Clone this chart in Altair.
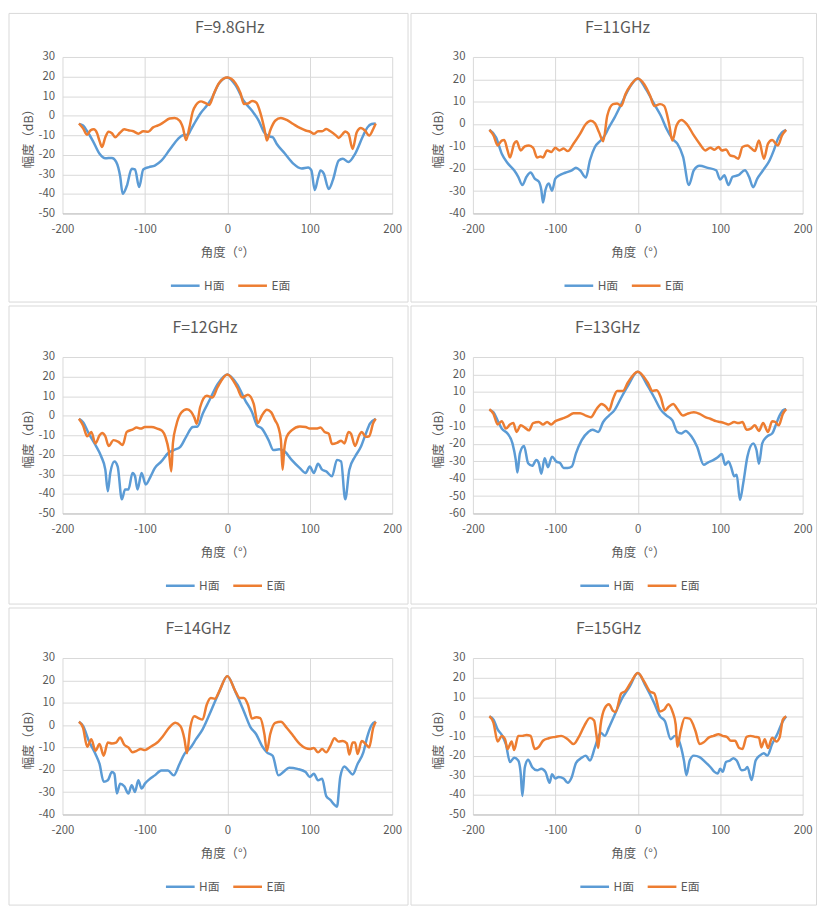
import altair as alt
import pandas as pd

BLUE = "#5B9BD5"
ORANGE = "#ED7D31"
GRID = "#D9D9D9"
TEXT = "#595959"
FONT = "Noto Sans CJK SC"

# F=9.8GHz
h98_deg = [-180, -175, -170, -163, -155, -148, -140, -135, -130, -127, -122, -116, -112, -107, -102, -95, -88, -80, -70, -60,
           -54, -48, -44, -38, -32, -25, -20, -10, 0, 10, 20, 30, 38, 45, 50, 55, 60, 70, 80, 90,
           98, 102, 106, 110, 113, 117, 123, 128, 135, 140, 147, 155, 165, 170, 175, 180]
h98_db = [-4.2, -5, -8, -13, -19.5, -21.8, -21.6, -23.5, -31, -40, -36, -27.2, -27.5, -36.5, -27.5, -26.3, -25.5, -23, -17.5, -12,
          -10, -9.8, -7, -2.5, 1.5, 5, 8, 16.5, 19.5, 15.5, 7.5, 2.5, -2.5, -8.8, -10.5, -11, -14.5, -19.5, -24.5, -27,
          -26.5, -28, -38, -32, -28, -29.6, -37.5, -33, -23, -22, -23.7, -19.5, -10, -6, -4.3, -4]
e98_deg = [-180, -175, -170, -166, -162, -158, -155, -152, -148, -144, -140, -136, -130, -125, -120, -114, -108, -102, -96, -90,
           -84, -78, -70, -64, -58, -54, -50, -46, -42, -38, -32, -27, -22, -16, -10, 0, 10, 16, 20, 25,
           30, 35, 40, 45, 48, 52, 58, 65, 72, 80, 88, 95, 100, 105, 110, 115, 120, 125, 132, 135,
           140, 143, 147, 152, 157, 162, 167, 172, 177, 180]
e98_db = [-4, -6.5, -9.8, -7.5, -7, -9, -13, -16, -11, -8.2, -9, -11, -8.6, -7, -7.5, -8, -9.2, -8, -8.2, -6,
          -5, -3.6, -1.5, -1.2, -2.5, -6, -12.5, -6, 2, 5.5, 7.3, 6.5, 5.5, 11.6, 16.7, 19.5, 16.5, 11.5, 6, 6.2,
          7.5, 6.7, 1.6, -6.8, -12.7, -7.6, -2.6, -1.2, -2.2, -4.3, -6.3, -7.6, -8.1, -9.3, -8, -8, -6.8, -8, -10.2, -11.4,
          -9.3, -8.1, -9.3, -17, -8.5, -6.3, -7.6, -10.2, -6.8, -4]

# F=11GHz
h11_deg = [-180, -172, -165, -158, -150, -145, -140, -135, -130, -125, -120, -117, -115, -112, -108, -104, -100, -95, -88, -80,
           -75, -70, -63, -58, -52, -45, -40, -35, -28, -20, -10, 0, 10, 20, 28, 35, 42, 48, 55, 62,
           68, 75, 85, 95, 100, 105, 110, 115, 122, 130, 135, 140, 145, 152, 160, 165, 170, 175, 180]
h11_db = [-2.6, -5.9, -13.3, -17.4, -20.7, -23.6, -27.3, -23.6, -21.7, -24.4, -25.8, -29.5, -35.1, -29.5, -26.6, -29.8, -24.4, -22.9, -21.8, -20.7,
          -19.6, -20.7, -23.9, -16.2, -10.3, -7.4, -5.1, -1.5, 3, 8.9, 16.3, 20.4, 15.5, 8.9, 3.7, -2.2, -6.6, -8.8, -14.7, -27.3,
          -20.7, -18.7, -19.6, -20.7, -24.8, -22.9, -27.3, -23.6, -22.9, -20.7, -23.6, -28.3, -24.4, -20.7, -16.2, -11.8, -6.6, -3.7, -2.6]
e11_deg = [-180, -175, -170, -165, -162, -158, -155, -150, -147, -142, -137, -132, -127, -122, -118, -115, -110, -105, -100, -95,
           -90, -85, -78, -70, -63, -57, -52, -47, -42, -37, -30, -25, -20, -15, -8, 0, 8, 15, 20, 27,
           32, 38, 42, 47, 53, 60, 68, 75, 82, 88, 93, 98, 102, 107, 112, 117, 122, 127, 133, 138,
           142, 147, 153, 158, 163, 170, 175, 180]
e11_db = [-2.6, -5.1, -9.6, -7.4, -7.1, -11.8, -15, -8.8, -7.7, -11.8, -10, -9.6, -10.6, -15, -14.5, -15, -11.8, -12.5, -10.6, -11.8,
          -11, -12.1, -8.8, -4.4, 0, 1.5, 0.3, -3.7, -7.7, 3.7, 8.9, 9.2, 8.1, 13.3, 17.7, 20.4, 17.7, 12.6, 8.1, 8.9,
          8.1, 0, -7.4, -0.7, 1.8, -0.3, -5.1, -8.8, -11.8, -10.6, -11.5, -10.3, -11.8, -11.4, -14, -14.5, -15.5, -10.3, -9.6, -11,
          -12.1, -7.4, -15.5, -8.8, -7.1, -9.6, -5.1, -2.6]

# F=12GHz
h12_deg = [-180, -175, -168, -160, -153, -148, -145, -142, -137, -133, -128, -124, -120, -115, -112, -109, -104, -99, -93, -88,
           -80, -72, -65, -57, -50, -42, -36, -30, -22, -12, 0, 12, 22, 30, 36, 42, 50, 56, 63, 70,
           78, 88, 95, 100, 105, 110, 115, 120, 127, 133, 138, 143, 148, 155, 162, 168, 173, 180]
h12_db = [-1.6, -3.3, -9.2, -15, -20.9, -27.6, -38.6, -29.3, -23.4, -26, -42.8, -37.7, -37.7, -29.3, -31, -37.7, -29.3, -35.2, -31, -26.8,
          -23.4, -19.2, -17.6, -15.9, -10.8, -5.8, -5.5, 0.9, 7.6, 16, 21.1, 16, 7.6, 1.8, -5, -6.6, -12.5, -17.6, -17.2, -18.4,
          -22.6, -26.8, -29.3, -26, -29.3, -24.6, -27.6, -28.5, -31, -22.6, -23.4, -42.8, -27.6, -20.9, -15.9, -9.2, -4.1, -1.6]
e12_deg = [-180, -175, -170, -165, -160, -155, -152, -148, -144, -138, -132, -127, -122, -115, -110, -105, -100, -92, -85, -79,
           -75, -71, -68, -66, -62, -56, -49, -44, -40, -37, -33, -25, -18, -12, 0, 12, 18, 25, 32, 37,
           42, 48, 53, 58, 62, 65, 67, 69, 72, 78, 88, 95, 100, 108, 113, 118, 123, 127, 133, 138,
           142, 147, 150, 155, 160, 163, 168, 172, 177, 180]
e12_db = [-1.6, -5, -10.5, -8.3, -14.2, -10, -8.8, -10.5, -15.5, -12.5, -13.4, -15, -8.3, -7.1, -6.1, -6.6, -5.8, -5.8, -6.6, -7.8,
          -11, -18, -28.5, -14, -5, 1.5, 3.3, 2, -1, -4.1, 4.3, 10.2, 9.3, 14.4, 21.1, 14.4, 9.3, 10.7, 6, -3.8,
          0.1, 3, 1.8, -2.4, -6, -12.5, -27.6, -17.5, -10.8, -7.5, -5.5, -5.8, -6.6, -6.6, -6.1, -8.3, -9.2, -14.5, -13.9, -12.8,
          -14.2, -8.3, -9.2, -15.5, -10, -8.3, -10.8, -10.5, -3.8, -1.6]

# F=13GHz
h13_deg = [-180, -175, -170, -165, -158, -152, -148, -146, -143, -138, -133, -128, -123, -120, -117, -113, -109, -104, -99, -94,
           -90, -85, -80, -75, -68, -60, -55, -48, -42, -35, -28, -20, -12, 0, 12, 20, 28, 35, 42, 48,
           53, 58, 65, 72, 80, 85, 92, 97, 102, 106, 110, 113, 117, 120, 124, 128, 133, 140, 144, 147,
           151, 157, 163, 168, 172, 177, 180]
h13_db = [-0.4, -1.8, -6.5, -11.2, -14, -19.7, -29.2, -36.4, -25.4, -21.2, -31.1, -32.6, -29.2, -31.1, -37.1, -28.2, -33.4, -27.3, -30.1, -31.1,
          -33.9, -33.9, -33, -25.4, -17.8, -13.1, -11.8, -13.1, -7.4, -3.7, -0.4, 6.7, 13.4, 21.5, 13.4, 6.7, -0.4, -3.7, -6.5, -13.1,
          -14, -12.5, -15.6, -21.6, -32, -30.7, -29.2, -27.7, -25.8, -32, -30.1, -33, -38.6, -37.7, -52.2, -42.4, -27.3, -19.7, -23.5, -31.4,
          -19.7, -15.6, -14, -8.4, -3.7, -0.4, 0]
e13_deg = [-180, -175, -170, -165, -160, -155, -151, -147, -142, -137, -132, -127, -120, -115, -110, -105, -100, -92, -85, -78,
           -70, -63, -57, -50, -44, -38, -35, -30, -25, -18, -12, 0, 12, 18, 23, 28, 33, 37, 43, 48,
           55, 60, 68, 75, 82, 88, 95, 100, 105, 110, 117, 122, 127, 132, 137, 142, 147, 152, 158, 163,
           167, 171, 176, 180]
e13_db = [0, -2.7, -8.8, -6.9, -11.2, -8.8, -8, -13.1, -9.3, -10.6, -12.2, -8, -7.4, -8.8, -7.4, -8.8, -6.9, -5.5, -4.2, -2.3,
          -2.3, -3.7, -4.6, 0.1, 3, 1.1, -0.8, 5.8, 10.5, 10.5, 15.3, 21.5, 15.3, 10.5, 10.9, 6.7, -0.8, 1.1, 3, 0.1,
          -3.7, -2.7, -1.8, -2.7, -4.6, -5.5, -6.9, -7.4, -8, -8.8, -7.4, -8, -7.4, -11.8, -11.2, -9.3, -12.5, -8, -13.1, -6.9,
          -7.4, -9.3, -2.7, 0]

# F=14GHz
h14_deg = [-180, -175, -168, -160, -155, -150, -145, -140, -137, -134, -130, -125, -120, -116, -112, -108, -104, -100, -95, -88,
           -80, -72, -65, -58, -52, -45, -38, -30, -20, -10, 0, 10, 20, 28, 35, 42, 48, 55, 62, 68,
           75, 85, 95, 100, 105, 110, 115, 120, 125, 130, 133, 137, 142, 147, 152, 158, 165, 170, 175, 180]
h14_db = [1.5, -0.4, -7.1, -12.9, -17.4, -25.4, -24.7, -21, -21.8, -30.6, -26.2, -27.4, -30.6, -26.9, -29.9, -24.7, -28.4, -26.2, -24.4, -22.5,
          -20.3, -20.3, -22.5, -17.4, -12.9, -10.3, -6.3, -1.9, 6.2, 14.7, 21.9, 14.7, 6.2, -0.9, -4.1, -9.3, -12.2, -13.7, -22.5, -21,
          -19.1, -19.6, -21, -23.2, -21.8, -24.7, -24, -31.8, -33.5, -35.7, -36.5, -23.2, -18.5, -20.3, -22.1, -17.4, -12.2, -4.9, 0, 1.5]
e14_deg = [-180, -175, -170, -165, -160, -155, -150, -145, -140, -135, -130, -125, -120, -115, -110, -105, -100, -93, -85, -78,
           -70, -63, -57, -52, -49, -45, -40, -35, -30, -25, -20, -15, -10, 0, 10, 15, 20, 25, 30, 35,
           40, 45, 48, 52, 58, 65, 72, 80, 88, 95, 100, 105, 110, 115, 120, 125, 130, 135, 140, 145,
           148, 152, 155, 158, 163, 168, 172, 177, 180]
e14_db = [1.5, -1.2, -9.7, -6.3, -11.5, -8.5, -13.7, -7.8, -8.2, -7.8, -5.6, -8.8, -10, -12.2, -11.5, -10.7, -11.2, -9.7, -7.8, -4.9,
          -0.9, 1, -0.4, -6.3, -12.6, -1.2, 4, 3.1, 2.5, 9.1, 12.1, 11.8, 15, 21.9, 15, 12.1, 12.1, 9.1, 2.9, 3.5,
          3.1, -4.1, -11.5, -4.1, 1, 1.5, -1.2, -4.9, -8.5, -10.3, -10.7, -10.3, -12.2, -10.7, -12.2, -9.3, -5.9, -7.4, -7.1, -8.2,
          -13.2, -7.8, -7.8, -12.9, -7.1, -8.5, -10, -1.2, 1.5]

# F=15GHz
h15_deg = [-180, -175, -170, -165, -160, -155, -150, -145, -142, -140, -137, -133, -128, -122, -117, -112, -107, -104, -100, -96,
           -90, -85, -80, -75, -68, -63, -58, -52, -45, -40, -35, -28, -20, -10, 0, 10, 20, 27, 33, 40,
           45, 50, 56, 59, 63, 68, 75, 82, 88, 93, 97, 100, 103, 107, 112, 116, 120, 126, 130, 133,
           138, 143, 148, 153, 157, 163, 170, 175, 180]
h15_db = [0.2, -1.5, -6.5, -9.3, -14, -23.2, -21, -22.4, -29.1, -40.5, -25.8, -22, -25.8, -27.4, -26.6, -28.2, -33.8, -29.4, -31.6, -30.8,
          -31.6, -33.8, -30.8, -23.7, -21, -19.9, -22.4, -15.7, -8.2, -9.8, -5.6, 1, 8.6, 15.3, 22.3, 15.3, 6.9, 0.2, -2.3, -11.5,
          -9.8, -12.3, -22.4, -29.9, -22.4, -19.9, -20.7, -23.2, -25.7, -28.2, -29.1, -26.6, -28.2, -23.2, -22.4, -21.2, -22.4, -27.4, -27.1, -25.7,
          -32.4, -22.4, -19.9, -18.7, -19.9, -14, -8.2, -3.1, 0.2]
e15_deg = [-180, -175, -170, -165, -161, -158, -153, -150, -145, -140, -135, -130, -125, -120, -115, -108, -100, -93, -85, -78,
           -72, -65, -58, -53, -50, -48, -45, -40, -35, -30, -27, -20, -15, -8, 0, 8, 15, 20, 27, 32,
           37, 42, 46, 48, 52, 57, 63, 70, 75, 80, 86, 92, 98, 103, 108, 113, 118, 123, 127, 132,
           137, 142, 147, 150, 154, 158, 163, 168, 172, 176, 180]
e15_db = [0.2, -3.1, -12.7, -9.8, -11.5, -16.5, -12.7, -17, -9.8, -9.8, -9.3, -9.8, -16.5, -15.4, -12.3, -11, -10.3, -9.8, -11.5, -14,
          -10.7, -4.8, -0.6, -2, -9.8, -16, -4, 4.4, 6.4, 3, 2.4, 11.9, 13.1, 17.8, 22.3, 17.8, 12.8, 11.9, 2.7, 3.6,
          6.4, 2.7, -4, -15.4, -7.3, -0.6, -1, -7.3, -14, -13.1, -10.7, -9.8, -9, -9.8, -10.3, -12.3, -12.3, -16, -16.5, -10.3,
          -9.8, -10.3, -10.7, -15.7, -11.5, -16, -10.7, -12.7, -10.7, -1.5, 0.2]


def panel(title, h_deg, h_db, e_deg, e_db, ymin, box, title_x, legend_x):
    h = pd.DataFrame({"deg": h_deg, "db": h_db, "plane": "H面"})
    e = pd.DataFrame({"deg": e_deg, "db": e_db, "plane": "E面"})
    data = pd.concat([h, e], ignore_index=True)
    x0, x1, y0, y1 = box

    # chart-area border, like the Excel chart frame
    frame = alt.Chart(pd.DataFrame({"k": [0]})).mark_rect(
        fillOpacity=0, stroke=GRID, strokeWidth=1
    ).encode(x=alt.value(x0), x2=alt.value(x1), y=alt.value(y0), y2=alt.value(y1))

    head = alt.Chart(pd.DataFrame({"t": [title]})).mark_text(
        font=FONT, fontSize=16, color=TEXT, align="center", baseline="middle"
    ).encode(text="t:N", x=alt.value(title_x), y=alt.value(-29))

    lines = alt.Chart(data).mark_line(interpolate="monotone", strokeWidth=2.5).encode(
        x=alt.X("deg:Q", scale=alt.Scale(domain=[-200, 200], nice=False),
                axis=alt.Axis(values=[-200, -100, 0, 100, 200], title="角度（°）",
                              labelExpr="datum.value + ''", labelFlush=False, domain=True,
                              domainColor="#BFBFBF", ticks=False, labelPadding=10, titlePadding=12)),
        y=alt.Y("db:Q", scale=alt.Scale(domain=[ymin, 30], nice=False),
                axis=alt.Axis(values=list(range(ymin, 31, 10)), title="幅度（dB）",
                              labelExpr="datum.value + ''", labelFlush=False, domain=False,
                              ticks=False, labelPadding=8, titlePadding=3)),
        color=alt.Color("plane:N", scale=alt.Scale(domain=["H面", "E面"], range=[BLUE, ORANGE]),
                        legend=alt.Legend(title=None, orient="none", legendX=legend_x, legendY=215,
                                          direction="horizontal", symbolType="stroke", symbolSize=841,
                                          symbolStrokeWidth=2.5, labelOffset=3, columnPadding=8, padding=0)),
    )
    return alt.layer(frame, lines, head).properties(width=333, height=158)


p1 = panel("F=9.8GHz", h98_deg, h98_db, e98_deg, e98_db, -50, (-54, 349, -44, 247.5), 169, 108)
p2 = panel("F=11GHz", h11_deg, h11_db, e11_deg, e11_db, -40, (-62.5, 347, -44, 247.5), 146, 91)
p3 = panel("F=12GHz", h12_deg, h12_db, e12_deg, e12_db, -50, (-54, 349, -51.5, 249.5), 144, 103)
p4 = panel("F=13GHz", h13_deg, h13_db, e13_deg, e13_db, -60, (-62.5, 347, -51.5, 249.5), 136, 107)
p5 = panel("F=14GHz", h14_deg, h14_db, e14_deg, e14_db, -40, (-54, 349, -50.5, 249.5), 137, 103)
p6 = panel("F=15GHz", h15_deg, h15_db, e15_deg, e15_db, -50, (-62.5, 347, -50.5, 249.5), 137, 107)


def row(a, b):
    return alt.hconcat(a, b, spacing=1.5).resolve_scale(
        x="independent", y="independent", color="independent"
    ).resolve_legend(color="independent")


chart = alt.vconcat(row(p1, p2), row(p3, p4), row(p5, p6), spacing=3).resolve_scale(
    x="independent", y="independent", color="independent"
).resolve_legend(color="independent").properties(padding=0).configure_view(
    strokeWidth=0
).configure_axis(
    gridColor=GRID, gridWidth=1, labelColor=TEXT, labelFont=FONT, labelFontSize=11.5,
    titleColor=TEXT, titleFont=FONT, titleFontSize=12.5, titleFontWeight="normal"
).configure_legend(
    labelFont=FONT, labelFontSize=12, labelColor=TEXT
)

chart.save("out.html", embed_options={"renderer": "svg", "actions": False})
